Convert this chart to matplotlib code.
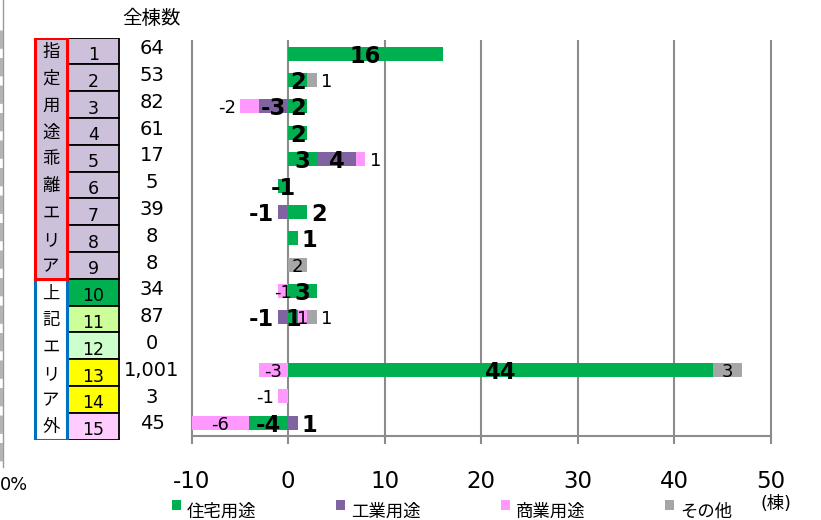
import matplotlib
matplotlib.use("Agg")
import matplotlib.pyplot as plt
import numpy as np
from matplotlib.patches import Rectangle, Patch
from matplotlib.legend_handler import HandlerPatch

plt.rcParams['font.family'] = ['DejaVu Sans', 'Noto Sans CJK JP']
plt.rcParams['axes.unicode_minus'] = False

# ---- data -------------------------------------------------------------
area_no = list(range(1, 16))
total_buildings = [64, 53, 82, 61, 17, 5, 39, 8, 8, 34, 87, 0, 1001, 3, 45]
series_names = ["住宅用途", "工業用途", "商業用途", "その他"]
residential = [16, 2, 2, 2, 3, -1, 2, 1, 0, 3, 1, 0, 44, 0, -4]
industrial = [0, 0, -3, 0, 4, 0, -1, 0, 0, 0, -1, 0, 0, 0, 1]
commercial = [0, 0, -2, 0, 1, 0, 0, 0, 0, -1, 1, 0, -3, -1, -6]
other_use = [0, 1, 0, 0, 0, 0, 0, 0, 2, 0, 1, 0, 3, 0, 0]
group_a_label = "指定用途乖離エリア"
group_b_label = "上記エリア外"
x_ticks = [-10, 0, 10, 20, 30, 40, 50]
header_text = "全棟数"
unit_text = "(棟)"
corner_text = "0%"

# ---- styling ----------------------------------------------------------
series_colors = ["#00B050", "#8064A2", "#FF99FF", "#A6A6A6"]
series_bold = [True, True, False, False]
# rows whose value label sits just beyond the bar end instead of centred
outside_rows = [{7, 8}, {7, 11, 15}, {3, 5, 14}, {2, 11}]
row_fill = ["#CCC0DA"] * 9 + ["#00B050", "#CCFF99", "#CCFFCC",
                              "#FFFF00", "#FFFF00", "#FFCCFF"]
grid_color = "#8C8C8C"

W, H = 821, 520
fig = plt.figure(figsize=(W / 100, H / 100), dpi=100)


def fx(px):
    return px / W


def fy(py):
    return 1 - py / H


# ---- background decorations (pixel coordinates) -----------------------
ax_o = fig.add_axes([0, 0, 1, 1])
ax_o.set_xlim(0, W)
ax_o.set_ylim(H, 0)
ax_o.axis("off")
ax_o.plot([2.5, 2.5], [0, 467], color="#9A9A9A", lw=1.0)
ax_o.plot([0.8, 0.8], [30, 467], color="#B4B4B4", lw=2.2,
          dashes=(6, 3), solid_capstyle="butt")
ax_o.text(0, 483, corner_text, ha="left", va="center_baseline", fontsize=12.8)
ax_o.text(152, 18.5, header_text, ha="center", va="center", fontsize=14)
ax_o.text(776, 504, unit_text, ha="center", va="center", fontsize=12.5)

# ---- main bar chart ---------------------------------------------------
ax = fig.add_axes([fx(191.5), fy(436), fx(771) - fx(191.5), fy(40.5) - fy(436)])
ax.set_facecolor("none")
ax.set_xlim(-10, 50)
ax.set_ylim(15.5, 0.5)

series = [residential, industrial, commercial, other_use]
rows = np.array(area_no)
pos = np.zeros(len(rows))
neg = np.zeros(len(rows))
handles = []
for k, (vals, name, color) in enumerate(zip(series, series_names, series_colors)):
    v = np.array(vals, dtype=float)
    left = np.where(v >= 0, pos, neg)
    ax.barh(rows, v, left=left, height=0.53, color=color, zorder=2)
    handles.append(Patch(facecolor=color, label=name))
    for r, val, l0 in zip(rows, v, left):
        if val == 0:
            continue
        end = l0 + val
        if r in outside_rows[k]:
            xpos = end
            ha = "left" if val > 0 else "right"
            off = 3 if val > 0 else -3
        else:
            xpos = l0 + val / 2
            ha = "center"
            off = 0
        ax.annotate(f"{int(val)}", (xpos, r), xytext=(off, 0),
                    textcoords="offset points", ha=ha, va="center_baseline",
                    fontsize=16.3 if series_bold[k] else 13,
                    fontweight="bold" if series_bold[k] else "normal",
                    zorder=4, annotation_clip=False)
    pos += np.where(v > 0, v, 0)
    neg += np.where(v < 0, v, 0)

ax.set_xticks(x_ticks)
ax.set_xticklabels([str(t) for t in x_ticks])
ax.set_yticks([])
ax.tick_params(axis="x", length=5.5, width=1.5, color=grid_color,
               labelsize=16.5, pad=19)
for s in ("top", "left", "right"):
    ax.spines[s].set_visible(False)
ax.spines["bottom"].set_color(grid_color)
ax.spines["bottom"].set_linewidth(1.5)
ax.set_axisbelow(True)
ax.grid(axis="x", color=grid_color, lw=1.5)
for gl in ax.get_xgridlines():
    gl.set_clip_on(False)

# ---- left-hand table --------------------------------------------------
ax_t = fig.add_axes([0, fy(439.5), fx(190), fy(37.5) - fy(439.5)])
ax_t.set_xlim(0, 190)
ax_t.set_ylim(15, 0)
ax_t.axis("off")

for i, (n, fc) in enumerate(zip(area_no, row_fill)):
    ax_t.add_patch(Rectangle((68, i), 51, 1, facecolor=fc,
                             edgecolor="black", lw=1.3, zorder=2))
    ax_t.text(93.5, i + 0.58, str(n), ha="center", va="center_baseline",
              fontsize=12.5, zorder=3)
    ax_t.annotate(f"{total_buildings[i]:,}", (152, i + 0.5), xytext=(0, 3),
                  textcoords="offset points", ha="center",
                  va="center_baseline", fontsize=14)

n_a = len(group_a_label)
n_b = len(group_b_label)
ax_t.add_patch(Rectangle((35, n_a), 32, n_b, facecolor="white",
                         edgecolor="#0070C0", lw=2.2, zorder=4))
ax_t.add_patch(Rectangle((35, 0), 32, n_a, facecolor="#CCC0DA",
                         edgecolor="#FF0000", lw=2.2, zorder=5))
for i, ch in enumerate(group_a_label + group_b_label):
    ax_t.text(51, i + 0.55, ch, ha="center", va="center",
              fontsize=12.5, zorder=6)


# ---- legend -----------------------------------------------------------
def raised_square(legend, orig_handle, xdescent, ydescent, width, height,
                  fontsize):
    # legend key sits a little above the centre line of its label
    return Rectangle((-xdescent, -ydescent + 0.32 * fontsize), width, height)


fig.legend(handles=handles, loc="upper left", ncol=4, frameon=False,
           bbox_to_anchor=(fx(172), fy(503)), bbox_transform=fig.transFigure,
           borderpad=0, borderaxespad=0, handlelength=0.52, handleheight=0.52,
           handletextpad=0.35, columnspacing=4.6, fontsize=12.5,
           handler_map={Patch: HandlerPatch(patch_func=raised_square)})

fig.savefig("out.png", dpi=100)
